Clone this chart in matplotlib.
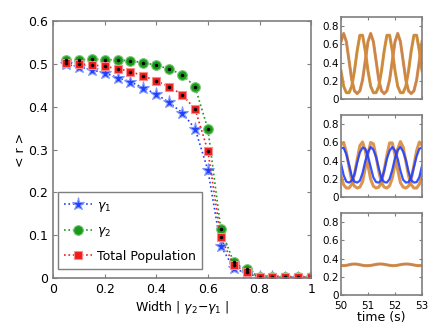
import matplotlib.pyplot as plt
import numpy as np

# main panel: mean order parameter vs width
width = [0.05, 0.10, 0.15, 0.20, 0.25, 0.30, 0.35, 0.40, 0.45, 0.50,
         0.55, 0.60, 0.65, 0.70, 0.75, 0.80, 0.85, 0.90, 0.95, 1.00]
r_gamma1 = [0.499, 0.493, 0.486, 0.479, 0.468, 0.458, 0.444, 0.429, 0.410, 0.386,
            0.349, 0.252, 0.075, 0.023, 0.011, 0.002, 0.002, 0.001, 0.001, 0.001]
r_gamma2 = [0.508, 0.510, 0.511, 0.510, 0.509, 0.507, 0.503, 0.497, 0.488, 0.475,
            0.447, 0.348, 0.115, 0.037, 0.020, 0.003, 0.003, 0.002, 0.002, 0.002]
r_total = [0.502, 0.500, 0.498, 0.494, 0.489, 0.482, 0.472, 0.460, 0.447, 0.428,
           0.395, 0.297, 0.095, 0.030, 0.015, 0.003, 0.003, 0.002, 0.002, 0.002]

# right panels: time series
t = [50.0, 50.1, 50.2, 50.3, 50.4, 50.5, 50.6, 50.7, 50.8, 50.9,
     51.0, 51.1, 51.2, 51.3, 51.4, 51.5, 51.6, 51.7, 51.8, 51.9,
     52.0, 52.1, 52.2, 52.3, 52.4, 52.5, 52.6, 52.7, 52.8, 52.9, 53.0]
top_a = [0.63, 0.72, 0.63, 0.42, 0.21, 0.09, 0.06, 0.09, 0.21, 0.42,
         0.63, 0.72, 0.63, 0.42, 0.21, 0.09, 0.06, 0.09, 0.21, 0.42,
         0.63, 0.72, 0.63, 0.42, 0.21, 0.09, 0.06, 0.09, 0.21, 0.42, 0.63]
top_b = [0.31, 0.14, 0.07, 0.07, 0.14, 0.31, 0.53, 0.70, 0.70, 0.53,
         0.31, 0.14, 0.07, 0.07, 0.14, 0.31, 0.53, 0.70, 0.70, 0.53,
         0.31, 0.14, 0.07, 0.07, 0.14, 0.31, 0.53, 0.70, 0.70, 0.53, 0.31]
mid_orange1 = [0.575, 0.60, 0.49, 0.33, 0.18, 0.12, 0.10, 0.11, 0.17, 0.32,
               0.475, 0.60, 0.585, 0.445, 0.285, 0.155, 0.11, 0.10, 0.125, 0.21,
               0.365, 0.53, 0.61, 0.55, 0.395, 0.235, 0.135, 0.10, 0.10, 0.14, 0.25]
mid_orange2 = [0.235, 0.135, 0.10, 0.10, 0.14, 0.25, 0.41, 0.565, 0.605, 0.51,
               0.35, 0.195, 0.12, 0.10, 0.11, 0.16, 0.30, 0.46, 0.595, 0.595,
               0.46, 0.30, 0.16, 0.11, 0.10, 0.12, 0.195, 0.35, 0.51, 0.605, 0.565]
mid_blue1 = [0.54, 0.54, 0.47, 0.355, 0.23, 0.17, 0.16, 0.18, 0.265, 0.395,
             0.495, 0.55, 0.52, 0.44, 0.315, 0.205, 0.165, 0.16, 0.20, 0.30,
             0.43, 0.515, 0.55, 0.50, 0.41, 0.28, 0.185, 0.16, 0.165, 0.22, 0.345]
mid_blue2 = [0.37, 0.24, 0.17, 0.16, 0.18, 0.25, 0.38, 0.49, 0.545, 0.53,
             0.45, 0.33, 0.215, 0.165, 0.16, 0.19, 0.29, 0.42, 0.51, 0.55,
             0.51, 0.42, 0.29, 0.19, 0.16, 0.165, 0.215, 0.33, 0.45, 0.53, 0.545]
bottom_r = [0.325, 0.322, 0.325, 0.332, 0.338, 0.340, 0.338, 0.332, 0.326, 0.322,
            0.322, 0.325, 0.330, 0.336, 0.340, 0.340, 0.337, 0.331, 0.326, 0.322,
            0.323, 0.327, 0.333, 0.338, 0.340, 0.339, 0.335, 0.329, 0.324, 0.322, 0.325]

BLUE = '#2040ff'
GREEN = '#1a9a1a'
RED = '#ee1c1c'
ORANGE = '#d98a3c'
FRAME = '#7f7f7f'

plt.rcParams['font.size'] = 9
plt.rcParams['axes.edgecolor'] = FRAME
plt.rcParams['xtick.direction'] = 'in'
plt.rcParams['ytick.direction'] = 'in'
plt.rcParams['xtick.color'] = FRAME
plt.rcParams['ytick.color'] = FRAME
plt.rcParams['xtick.labelcolor'] = 'black'
plt.rcParams['ytick.labelcolor'] = 'black'

fig = plt.figure(figsize=(4.36, 3.28), dpi=100)

ax = fig.add_axes([0.1216, 0.1524, 0.592, 0.7835])
ax.plot(width, r_gamma1, ':', color=BLUE, lw=1.2, marker='*', ms=9.5,
        mfc=BLUE, mec='#7f95ff', mew=0.8, label=r'$\gamma_1$')
ax.plot(width, r_gamma2, ':', color=GREEN, lw=1.2, marker='o', ms=7,
        mfc=GREEN, mec='#7cc87c', mew=0.8, label=r'$\gamma_2$')
ax.plot(width, r_total, ':', color=RED, lw=1.2, marker='s', ms=6,
        mfc=RED, mec='#ff8a8a', mew=0.8, label='Total Population')
ax.plot(width, r_gamma2, ls='none', marker='.', ms=3, color='black')
ax.plot(width, r_total, ls='none', marker='.', ms=3, color='black')

ax.set_xlim(0, 1)
ax.set_ylim(0, 0.6)
ax.set_xticks([0, 0.2, 0.4, 0.6, 0.8, 1])
ax.set_xticklabels(['0', '0.2', '0.4', '0.6', '0.8', '1'])
ax.set_yticks([0, 0.1, 0.2, 0.3, 0.4, 0.5, 0.6])
ax.set_yticklabels(['0', '0.1', '0.2', '0.3', '0.4', '0.5', '0.6'])
ax.tick_params(top=True, right=True, length=3)
ax.set_xlabel(r'Width | $\gamma_2$$-$$\gamma_1$ |', labelpad=2)
ax.set_ylabel('< r >', labelpad=1)
for s in ax.spines.values():
    s.set_linewidth(1.2)

leg = ax.legend(loc='lower left', bbox_to_anchor=(0.02, 0.035), fancybox=False,
                edgecolor=FRAME, framealpha=1, fontsize=9, handlelength=2.2,
                handletextpad=0.4, borderpad=0.5, labelspacing=0.85,
                borderaxespad=0)
leg.get_frame().set_linewidth(1.0)

# small panels on the right
panel_y = [0.698, 0.399, 0.1006]
curves = [
    [(top_a, BLUE, 1.4), (top_b, GREEN, 1.4), (top_a, ORANGE, 2.2), (top_b, ORANGE, 2.2)],
    [(mid_orange1, ORANGE, 2.2), (mid_orange2, ORANGE, 2.2), (mid_blue1, BLUE, 1.6), (mid_blue2, BLUE, 1.6)],
    [(bottom_r, BLUE, 1.4), (bottom_r, ORANGE, 2.2)],
]
for i, y0 in enumerate(panel_y):
    a = fig.add_axes([0.782, y0, 0.186, 0.25])
    for vals, c, lw in curves[i]:
        a.plot(t, vals, '-', color=c, lw=lw, alpha=0.9)
    a.set_xlim(50, 53)
    a.set_ylim(0, 0.9)
    a.set_yticks([0, 0.2, 0.4, 0.6, 0.8])
    a.set_yticklabels(['0', '0.2', '0.4', '0.6', '0.8'])
    a.set_xticks([50, 51, 52, 53])
    a.tick_params(top=True, right=True, length=2, labelsize=7.5, pad=1.5)
    for s in a.spines.values():
        s.set_linewidth(1.2)
    if i < 2:
        a.set_xticklabels([])
    else:
        a.tick_params(axis='x', pad=4.5)
        a.set_xlabel('time (s)', labelpad=0)

fig.savefig('out.png', dpi=100)
